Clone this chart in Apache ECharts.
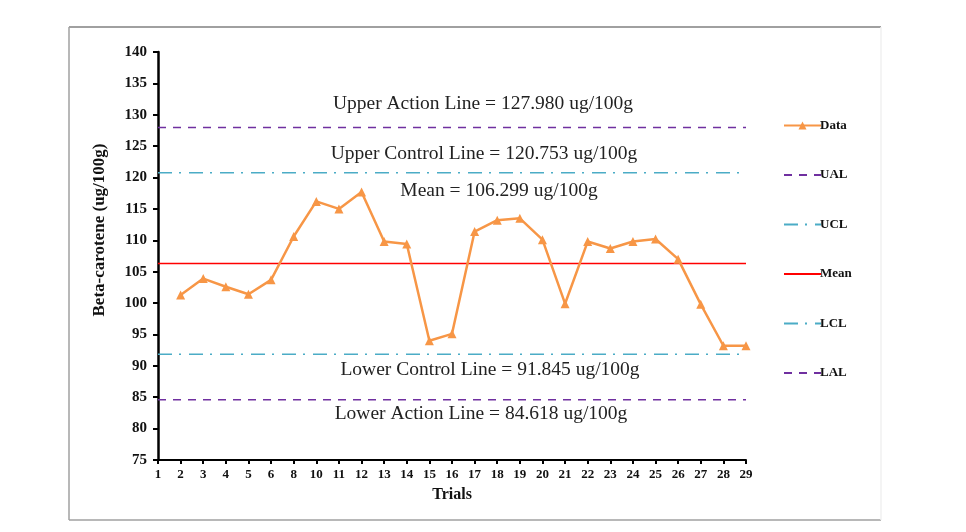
<!DOCTYPE html>
<html>
<head>
<meta charset="utf-8">
<script src="https://cdn.jsdelivr.net/npm/echarts@6/dist/echarts.min.js"></script>
<style>html,body{margin:0;padding:0;background:#fff;}#c{width:966px;height:532px;}</style>
</head>
<body>
<div id="c"></div>
<script>
var categories = ['1','2','3','4','5','6','8','10','11','12','13','14','15','16','17','18','19','20','21','22','23','24','25','26','27','28','29'];
var dataValues = [null,101.3,103.9,102.6,101.4,103.7,110.6,116.2,115.0,117.7,109.8,109.4,94.0,95.1,111.4,113.2,113.5,110.1,99.9,109.8,108.7,109.8,110.2,107.0,99.8,93.2,93.2];
var UAL = 127.980, UCL = 120.753, MEAN = 106.299, LCL = 91.845, LAL = 84.618;
var yTicks = {min: 75, max: 140, interval: 5};

var serif = '"Liberation Serif", "DejaVu Serif", serif';
var flat = function (v) { return categories.map(function () { return v; }); };
var noSym = {opacity: 0};

var chart = echarts.init(document.getElementById('c'));
chart.setOption({
  animation: false,
  backgroundColor: '#fff',
  grid: {left: 158, right: 220, top: 52, bottom: 72},
  legend: {
    orient: 'vertical', left: 778, top: 114, itemGap: 36.5,
    itemWidth: 37, itemHeight: 10,
    textStyle: {fontFamily: serif, fontWeight: 'bold', fontSize: 13, color: '#111', padding: [0, 0, 0, -6]},
    data: [
      {name: 'Data'},
      {name: 'UAL', itemStyle: noSym},
      {name: 'UCL', itemStyle: noSym},
      {name: 'Mean', itemStyle: noSym},
      {name: 'LCL', itemStyle: noSym},
      {name: 'LAL', itemStyle: noSym}
    ]
  },
  xAxis: {
    type: 'category', data: categories, boundaryGap: false,
    name: 'Trials', nameLocation: 'middle', nameGap: 27,
    nameTextStyle: {fontFamily: serif, fontWeight: 'bold', fontSize: 16, color: '#111'},
    axisLine: {lineStyle: {color: '#000', width: 2}},
    axisTick: {show: true, interval: 0, length: 4, lineStyle: {color: '#000', width: 2}},
    axisLabel: {interval: 0, margin: 8, fontFamily: serif, fontWeight: 'bold', fontSize: 13, color: '#111'},
    splitLine: {show: false}
  },
  yAxis: {
    type: 'value', min: yTicks.min, max: yTicks.max, interval: yTicks.interval,
    axisLine: {show: true, lineStyle: {color: '#000', width: 2.5}},
    axisTick: {show: true, length: 5, lineStyle: {color: '#000', width: 2}},
    axisLabel: {margin: 11, fontFamily: serif, fontWeight: 'bold', fontSize: 15, color: '#111'},
    splitLine: {show: false}
  },
  series: [
    {name: 'Data', type: 'line', data: dataValues, z: 10,
     symbol: 'triangle', symbolSize: 9, connectNulls: false,
     itemStyle: {color: '#F79646'}, lineStyle: {color: '#F79646', width: 2.5}},
    {name: 'UAL', type: 'line', data: flat(UAL), symbol: 'none', silent: true,
     itemStyle: {color: '#7030A0'}, lineStyle: {color: '#7030A0', width: 1.5, type: [8, 7]}},
    {name: 'UCL', type: 'line', data: flat(UCL), symbol: 'none', silent: true,
     itemStyle: {color: '#4BACC6'}, lineStyle: {color: '#4BACC6', width: 1.5, type: [14, 7, 2, 8]}},
    {name: 'Mean', type: 'line', data: flat(MEAN), symbol: 'none', silent: true,
     itemStyle: {color: '#FF0000'}, lineStyle: {color: '#FF0000', width: 1.5}},
    {name: 'LCL', type: 'line', data: flat(LCL), symbol: 'none', silent: true,
     itemStyle: {color: '#4BACC6'}, lineStyle: {color: '#4BACC6', width: 1.5, type: [14, 7, 2, 8]}},
    {name: 'LAL', type: 'line', data: flat(LAL), symbol: 'none', silent: true,
     itemStyle: {color: '#7030A0'}, lineStyle: {color: '#7030A0', width: 1.5, type: [8, 7]}}
  ],
  graphic: [
    {type: 'line', shape: {x1: 69, y1: 27, x2: 881, y2: 27}, style: {stroke: '#808080', lineWidth: 1.5}},
    {type: 'line', shape: {x1: 69, y1: 27, x2: 69, y2: 520}, style: {stroke: '#a0a0a0', lineWidth: 1.5}},
    {type: 'line', shape: {x1: 69, y1: 520, x2: 881, y2: 520}, style: {stroke: '#a0a0a0', lineWidth: 1.5}},
    {type: 'line', shape: {x1: 881, y1: 27, x2: 881, y2: 520}, style: {stroke: '#f0f0f0', lineWidth: 1.5}},
    {type: 'text', x: 100, y: 230, rotation: Math.PI / 2,
     style: {text: 'Beta-carotene (ug/100g)', font: 'bold 17px ' + serif, fill: '#111', textAlign: 'center', textVerticalAlign: 'middle'}},
    {type: 'text', x: 483, y: 104, style: {text: 'Upper Action Line = 127.980 ug/100g', font: '19.5px ' + serif, fill: '#222', textAlign: 'center', textVerticalAlign: 'middle'}},
    {type: 'text', x: 484, y: 154, style: {text: 'Upper Control Line = 120.753 ug/100g', font: '19.5px ' + serif, fill: '#222', textAlign: 'center', textVerticalAlign: 'middle'}},
    {type: 'text', x: 499, y: 191, style: {text: 'Mean = 106.299 ug/100g', font: '19.5px ' + serif, fill: '#222', textAlign: 'center', textVerticalAlign: 'middle'}},
    {type: 'text', x: 490, y: 370, style: {text: 'Lower Control Line = 91.845 ug/100g', font: '19.5px ' + serif, fill: '#222', textAlign: 'center', textVerticalAlign: 'middle'}},
    {type: 'text', x: 481, y: 414, style: {text: 'Lower Action Line = 84.618 ug/100g', font: '19.5px ' + serif, fill: '#222', textAlign: 'center', textVerticalAlign: 'middle'}}
  ]
});
</script>
</body>
</html>
